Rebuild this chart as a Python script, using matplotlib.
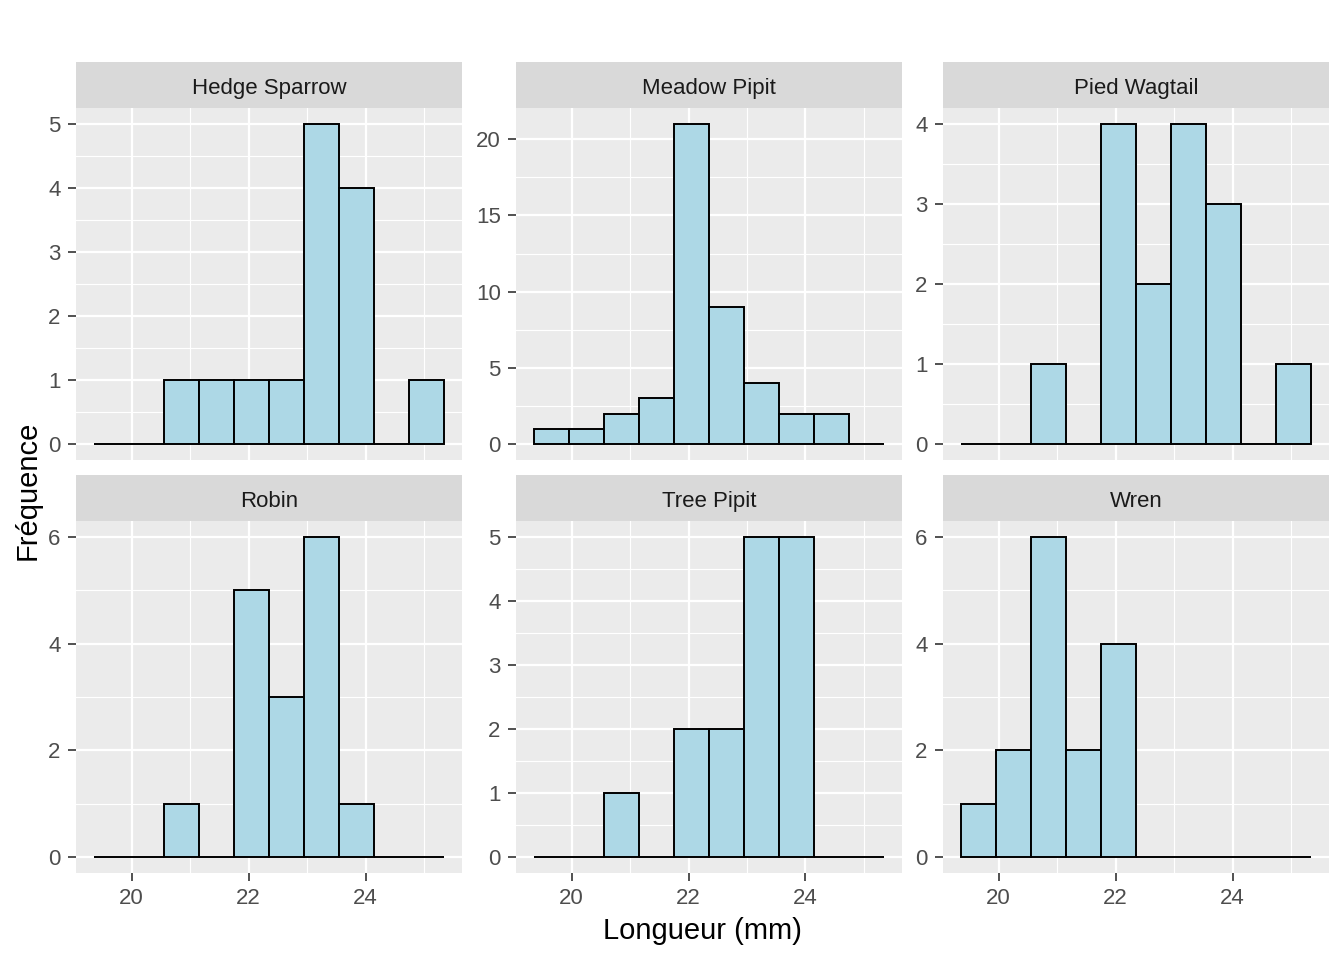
import numpy as np
import matplotlib.pyplot as plt
from matplotlib.ticker import MultipleLocator

plt.rcParams['font.family'] = ['Liberation Sans', 'DejaVu Sans']

# histogram counts per bin (10 bins, width 0.6 mm, starting at 19.35 mm)
species = ['Hedge Sparrow', 'Meadow Pipit', 'Pied Wagtail', 'Robin', 'Tree Pipit', 'Wren']
hedge_sparrow = [0, 0, 1, 1, 1, 1, 5, 4, 0, 1]
meadow_pipit = [1, 1, 2, 3, 21, 9, 4, 2, 2, 0]
pied_wagtail = [0, 0, 1, 0, 4, 2, 4, 3, 0, 1]
robin = [0, 0, 1, 0, 5, 3, 6, 1, 0, 0]
tree_pipit = [0, 0, 1, 0, 2, 2, 5, 5, 0, 0]
wren = [1, 2, 6, 2, 4, 0, 0, 0, 0, 0]
counts = [hedge_sparrow, meadow_pipit, pied_wagtail, robin, tree_pipit, wren]
y_steps = [1, 5, 1, 2, 1, 2]

bin_start = 19.35
bin_width = 0.6
edges = bin_start + bin_width * np.arange(11)
lefts = edges[:-1]

W, H = 1344, 960
fig = plt.figure(figsize=(W / 100, H / 100), dpi=100)

cols = [(76, 462), (516, 902), (943, 1329)]
rows = [(62, 108, 460), (475, 521, 873)]

panel_bg = '#EBEBEB'
strip_bg = '#D9D9D9'

xlo = edges[0] - 0.05 * (edges[-1] - edges[0])
xhi = edges[-1] + 0.05 * (edges[-1] - edges[0])

for i, (name, c) in enumerate(zip(species, counts)):
    r, k = divmod(i, 3)
    x0, x1 = cols[k]
    s_top, p_top, p_bot = rows[r]
    ax = fig.add_axes([x0 / W, 1 - p_bot / H, (x1 - x0) / W, (p_bot - p_top) / H])
    ax.set_facecolor(panel_bg)
    for sp in ax.spines.values():
        sp.set_visible(False)
    ymax = max(c)
    ax.set_xlim(xlo, xhi)
    ax.set_ylim(-0.05 * ymax, ymax * 1.05)
    ax.xaxis.set_major_locator(MultipleLocator(2))
    ax.xaxis.set_minor_locator(MultipleLocator(1))
    ax.yaxis.set_major_locator(MultipleLocator(y_steps[i]))
    ax.yaxis.set_minor_locator(MultipleLocator(y_steps[i] / 2))
    ax.grid(which='major', color='white', linewidth=1.6)
    ax.grid(which='minor', color='white', linewidth=0.8)
    ax.set_axisbelow(True)
    ax.bar(lefts, c, width=bin_width, align='edge', color='#ADD8E6',
           edgecolor='black', linewidth=1.4, zorder=3)
    ax.tick_params(which='major', length=5.5, width=1.2, color='#333333',
                   labelcolor='#4D4D4D', labelsize=16, pad=5.5)
    ax.tick_params(which='minor', length=0)
    if r == 0:
        ax.tick_params(axis='x', which='both', bottom=False, labelbottom=False)
    # strip
    sax = fig.add_axes([x0 / W, 1 - p_top / H, (x1 - x0) / W, (p_top - s_top) / H])
    sax.set_facecolor(strip_bg)
    sax.set_xticks([])
    sax.set_yticks([])
    for sp in sax.spines.values():
        sp.set_visible(False)
    sax.text(0.5, 0.42, name, ha='center', va='center', fontsize=16,
             color='#1A1A1A', transform=sax.transAxes)

fig.text(702 / W, 1 - 931 / H, 'Longueur (mm)', ha='center', va='center', fontsize=21)
fig.text(28 / W, 1 - 490 / H, 'Fréquence', ha='center', va='center',
         rotation=90, fontsize=21)

fig.savefig('out.png', dpi=100)
